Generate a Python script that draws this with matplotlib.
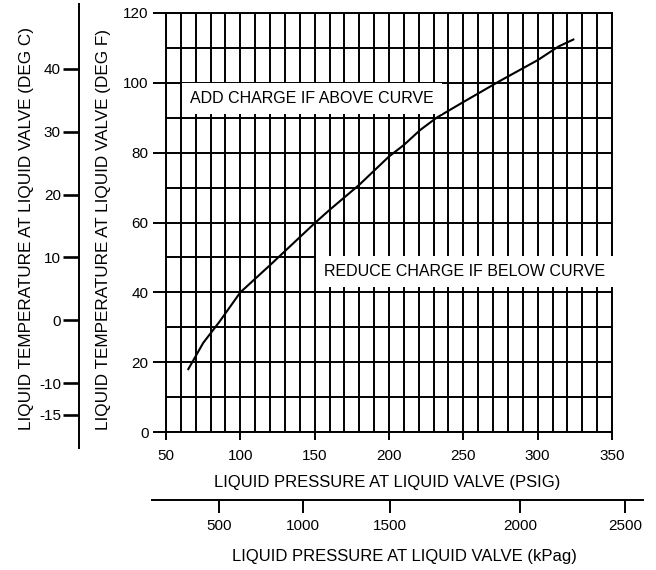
import numpy as np
import matplotlib
matplotlib.use("Agg")
import matplotlib.pyplot as plt

plt.rcParams['font.family'] = ['Liberation Sans', 'DejaVu Sans']
plt.rcParams['axes.unicode_minus'] = False

# curve: liquid pressure (psig) vs liquid temperature (deg F)
psig = [65, 75, 86, 100, 120, 150, 160, 180, 200, 210, 221, 232, 250, 274, 300, 314, 324]
temp_f = [18, 25.5, 31.6, 40, 47.8, 59.8, 63.6, 70.8, 78.9, 82.2, 86.5, 90, 94.5, 100.4, 106.5, 110.4, 112.4]

x_major = [50, 100, 150, 200, 250, 300, 350]
y_major = [0, 20, 40, 60, 80, 100, 120]
c_ticks = [-15, -10, 0, 10, 20, 30, 40]
kpa_labels = [500, 1000, 1500, 2000, 2500]
kpa_at_psig = [85.8, 142.4, 200.6, 288, 358.9]   # where the kPa ticks sit on the psig scale

W, H = 656, 570
fig = plt.figure(figsize=(W / 100, H / 100), dpi=100)


def fx(px):
    return px / W


def fy(py):
    return 1 - py / H


lw = 1.4
FS = 11

# main grid axes: 50..350 psig between x=166..612 px, 0..120 F between y=432..13 px
L, R, T, B = 166, 612, 13, 432
ax = fig.add_axes([fx(L), fy(B), fx(R - L), (B - T) / H])
ax.set_xlim(50, 350)
ax.set_ylim(0, 120)
ax.set_xticks(x_major)
ax.set_xticks(np.arange(50, 351, 10), minor=True)
ax.set_yticks(y_major)
ax.set_yticks(np.arange(0, 121, 10), minor=True)
ax.grid(True, which='both', color='black', linewidth=lw)
ax.tick_params(which='minor', length=0)
ax.tick_params(axis='x', which='major', length=6, width=lw, pad=6, labelsize=FS)
ax.tick_params(axis='y', which='major', length=9.5, width=lw, pad=3, labelsize=FS)
for s in ax.spines.values():
    s.set_linewidth(lw)
ax.plot(psig, temp_f, color='black', linewidth=1.5, zorder=5)

box = dict(boxstyle='square,pad=0.5', facecolor='white', edgecolor='none')
ax.text(148, 95.5, 'ADD CHARGE IF ABOVE CURVE', ha='center', va='center',
        fontsize=11.5, bbox=box, zorder=6)
ax.text(251, 45.9, 'REDUCE CHARGE IF BELOW CURVE', ha='center', va='center',
        fontsize=11.5, bbox=box, zorder=6)

# deg C scale on its own spine at x=79 px, y from 4 to 448 px
ppf = (B - T) / 120.0
f_hi = 120 + (T - 4) / ppf
f_lo = 0 - (448 - B) / ppf
axc = fig.add_axes([fx(79), fy(448), 0.0001, (448 - 4) / H])
axc.set_ylim((f_lo - 32) * 5 / 9, (f_hi - 32) * 5 / 9)
axc.set_yticks(c_ticks)
axc.set_xticks([])
for k in ['right', 'top', 'bottom']:
    axc.spines[k].set_visible(False)
axc.spines['left'].set_linewidth(lw)
axc.patch.set_visible(False)
axc.tick_params(axis='y', length=11.5, width=1.9, pad=1.5, labelsize=FS)

# kPa scale: line at y=500 px from x=152..643 px
kl, kr = 152, 643
ppx = (R - L) / 300.0
k_lo = 50 + (kl - L) / ppx
k_hi = 50 + (kr - L) / ppx
axk = fig.add_axes([fx(kl), fy(500), fx(kr - kl), 0.0001])
axk.set_xlim(k_lo, k_hi)
axk.set_xticks(kpa_at_psig)
axk.set_xticklabels([str(v) for v in kpa_labels])
axk.set_yticks([])
for k in ['left', 'right', 'top']:
    axk.spines[k].set_visible(False)
axk.spines['bottom'].set_linewidth(lw)
axk.patch.set_visible(False)
axk.tick_params(axis='x', length=9.5, width=lw, pad=4, labelsize=FS)

fig.text(fx(27), fy(229), 'LIQUID TEMPERATURE AT LIQUID VALVE (DEG C)', rotation=90,
         ha='center', va='center', fontsize=FS + 1.3)
fig.text(fx(103.5), fy(229), 'LIQUID TEMPERATURE AT LIQUID VALVE (DEG F)', rotation=90,
         ha='center', va='center', fontsize=FS + 1.3)
fig.text(fx(387), fy(482), 'LIQUID PRESSURE AT LIQUID VALVE (PSIG)',
         ha='center', va='center', fontsize=FS + 1)
fig.text(fx(404), fy(556), 'LIQUID PRESSURE AT LIQUID VALVE (kPag)',
         ha='center', va='center', fontsize=FS + 1)

fig.savefig('out.png', dpi=100, facecolor='white')
